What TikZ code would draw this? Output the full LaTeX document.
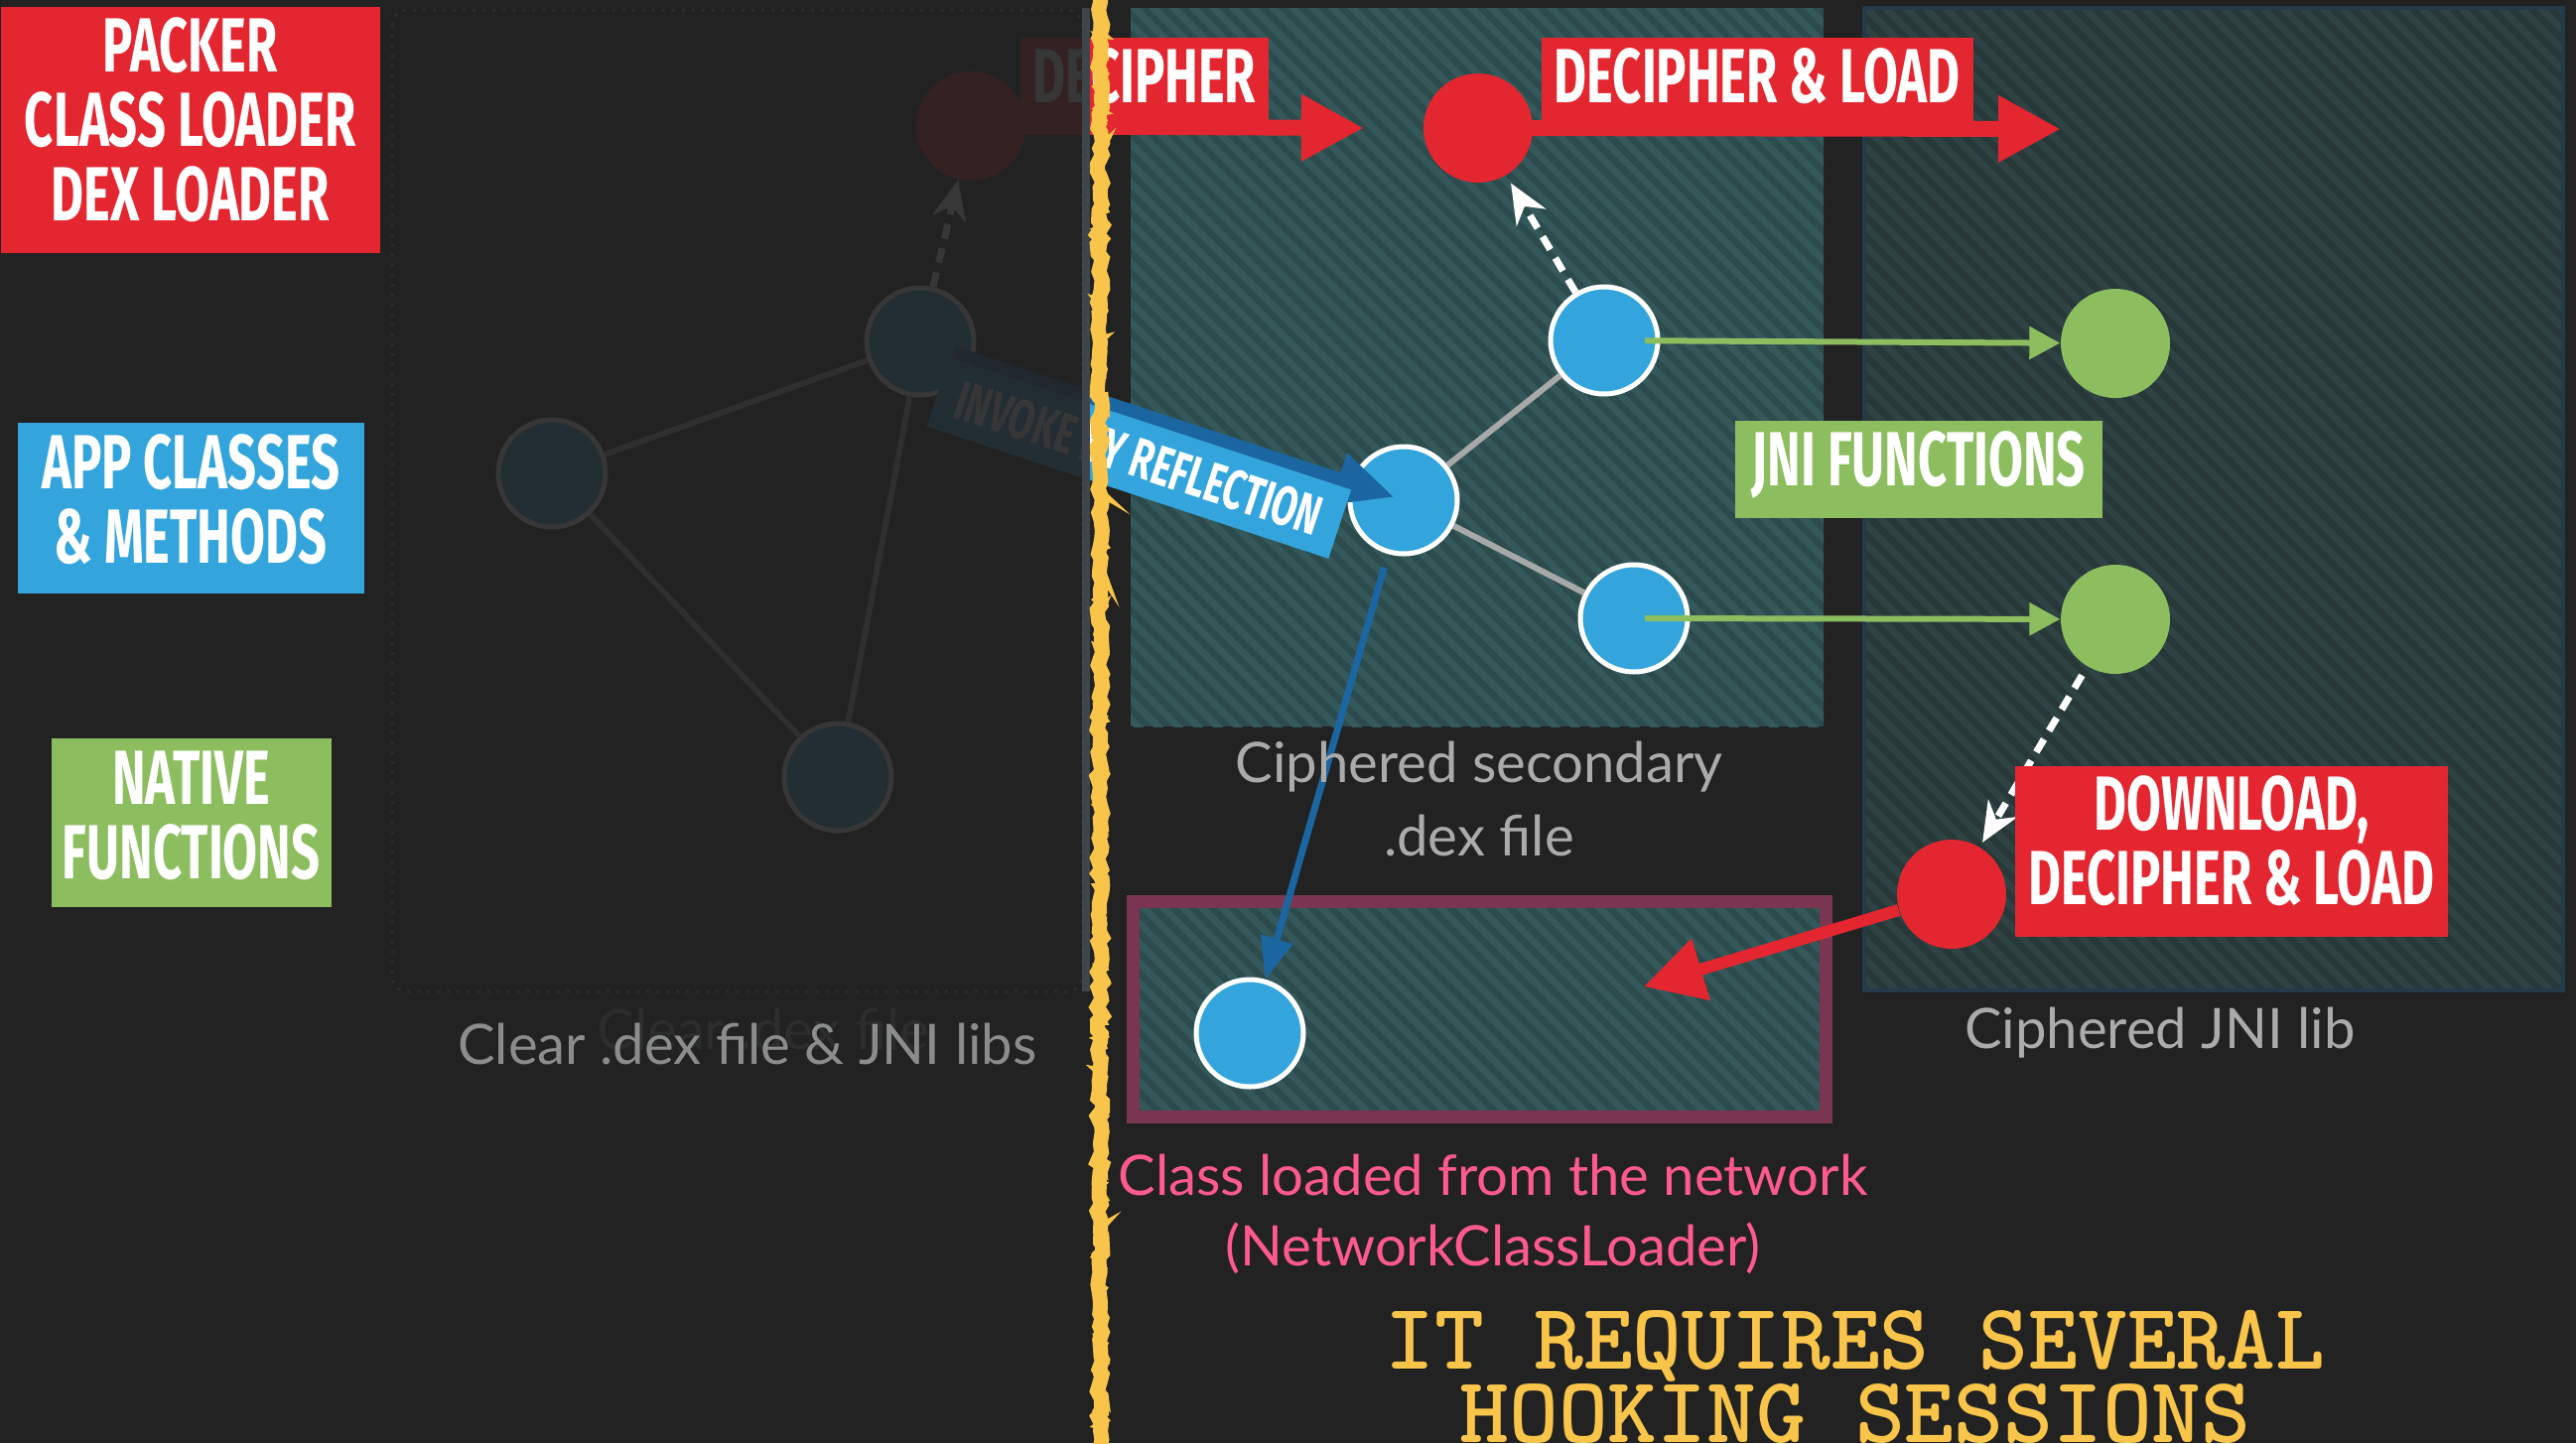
\documentclass[tikz,border=0pt]{standalone}
\usepackage{fontspec}
\setmainfont{Lato}
\newfontfamily\dinfont[FakeStretch=0.655]{Fira Sans}
\usetikzlibrary{arrows.meta, patterns.meta, decorations.pathmorphing}

\definecolor{bgc}{HTML}{222222}
\definecolor{tagred}{HTML}{E3262F}
\definecolor{appblue}{HTML}{34A5DC}
\definecolor{nativegreen}{HTML}{8CBE5F}
\definecolor{arrowblue}{HTML}{1B66A0}
\definecolor{tealA}{HTML}{2C4B4D}
\definecolor{tealAs}{HTML}{35595B}
\definecolor{tealB}{HTML}{283839}
\definecolor{tealBs}{HTML}{2F4244}
\definecolor{jniborder}{HTML}{24394A}
\definecolor{netborder}{HTML}{7A3550}
\definecolor{edgegray}{HTML}{A8A8A8}
\definecolor{capgray}{HTML}{ABABAB}
\definecolor{cleargray}{HTML}{8A8C8D}
\definecolor{ghostgray}{HTML}{2C2D2D}
\definecolor{pinktext}{HTML}{FF5A8E}
\definecolor{chalk}{HTML}{F8C54A}
\definecolor{stripgray}{HTML}{3E464C}

\tikzstyle{tag} = [rectangle, text=white, inner xsep=0pt, inner ysep=0pt,
text height=0.65cm, text depth=0.33cm, align=center,
font=\dinfont\bfseries\fontsize{22}{21.3}\selectfont]
\tikzstyle{packer} = [tag, fill=tagred]
\tikzstyle{app} = [tag, fill=appblue]
\tikzstyle{native} = [tag, fill=nativegreen]
\tikzstyle{invoke} = [rectangle, fill=appblue, text=white, inner sep=0pt,
minimum width=4.26cm, minimum height=0.73cm,
font=\dinfont\bfseries\fontsize{16}{18}\selectfont]
\tikzstyle{cls} = [circle, fill=appblue, draw=white, line width=0.05cm, minimum size=1.08cm, inner sep=0pt]
\tikzstyle{lib} = [circle, fill=nativegreen, minimum size=1.10cm, inner sep=0pt]
\tikzstyle{ldr} = [circle, fill=tagred, minimum size=1.10cm, inner sep=0pt]
\tikzstyle{edge} = [line width=0.06cm, draw=edgegray]
\tikzstyle{flow} = [line width=0.16cm, draw=tagred, -{Triangle[length=0.63cm,width=0.63cm]}]
\tikzstyle{fetch} = [line width=0.12cm, draw=tagred, -{Triangle[length=0.6cm,width=0.62cm]}]
\tikzstyle{hook} = [line width=0.07cm, draw=white, dash pattern=on 0.15cm off 0.1cm, -{Stealth[length=0.4cm,width=0.34cm]}]
\tikzstyle{jni} = [line width=0.06cm, draw=nativegreen, -{Triangle[length=0.31cm,width=0.32cm]}]
\tikzstyle{refl} = [line width=0.13cm, draw=arrowblue, shorten <=0.35cm, shorten >=0.1cm, -{Triangle[length=0.59cm,width=0.51cm]}]
\tikzstyle{load} = [line width=0.07cm, draw=arrowblue, shorten <=0.14cm, -{Triangle[length=0.42cm,width=0.32cm]}]
\tikzstyle{dexpanel} = [fill=tealA, postaction={pattern={Lines[angle=-45,distance=4pt,line width=2pt]}, pattern color=tealAs}]
\tikzstyle{jnipanel} = [fill=tealB, postaction={pattern={Lines[angle=-45,distance=4pt,line width=2pt]}, pattern color=tealBs}]
\tikzstyle{caption} = [text=capgray, anchor=base, align=center, font=\fontsize{16}{21}\selectfont]

\begin{document}
\begin{tikzpicture}
\pgfmathsetseed{7}
\useasboundingbox (0,0) rectangle (25.95,-14.54);
\fill[bgc] (0,0) rectangle (25.95,-14.54);

% panels
\fill[dexpanel] (11.39,-0.08) rectangle (18.37,-7.32);
\fill[jnipanel] (18.78,-0.08) rectangle (25.82,-9.98);
\draw[jniborder, line width=0.04cm] (18.78,-0.08) rectangle (25.82,-9.98);
\fill[dexpanel] (11.415,-9.085) rectangle (18.395,-11.255);
\draw[netborder, line width=0.13cm] (11.415,-9.085) rectangle (18.395,-11.255);

% legend
\node[packer, anchor=south west, minimum width=3.82cm, text height=2.15cm] (lgPacker) at (0,-2.56) {PACKER\\CLASS LOADER\\DEX LOADER};
\node[app, anchor=south west, minimum width=3.49cm, text height=1.41cm, text depth=0.31cm] (lgApp) at (0.17,-5.99) {APP CLASSES\\\& METHODS};
\node[native, anchor=south west, minimum width=2.82cm, text height=1.41cm, text depth=0.29cm] (lgNative) at (0.51,-9.15) {NATIVE\\FUNCTIONS};

% clear dex (dimmed later)
\node[cls] (dimA) at (5.56,-4.77) {};
\node[cls] (dimB) at (9.27,-3.44) {};
\node[cls] (dimC) at (8.44,-7.83) {};
\node[ldr] (dimR) at (9.78,-1.27) {};
% ciphered dex
\node[cls] (nTop) at (16.16,-3.43) {};
\node[cls] (nMid) at (14.14,-5.04) {};
\node[cls] (nBot) at (16.46,-6.23) {};
\node[ldr] (rLoad) at (14.89,-1.29) {};
% jni lib
\node[lib] (gTop) at (21.31,-3.46) {};
\node[lib] (gBot) at (21.31,-6.24) {};
\node[ldr] (rDown) at (19.66,-9.01) {};
% network
\node[cls] (nNet) at (12.59,-10.41) {};

\coordinate (decTip) at (13.74,-1.29);
\coordinate (loadTip) at (20.76,-1.30);
\coordinate (netTip) at (16.56,-9.94);

\draw[edge] (dimA) -- (dimB);
\draw[edge] (dimA) -- (dimC);
\draw[edge] (dimB) -- (dimC);
\draw[edge] (nMid) -- (nTop);
\draw[edge] (nMid) -- (nBot);

\draw[jni, shorten <=0.41cm] (nTop.center) -- (gTop);
\draw[jni, shorten <=0.11cm] (nBot.center) -- (gBot);

\draw[hook] (dimB) -- (dimR);
\draw[hook, shorten >=0.09cm] (nTop) -- (rLoad);
\draw[hook, shorten <=0.1cm, shorten >=0.05cm] (gBot) -- (rDown);

\draw[refl] (dimB.center) -- node[invoke, sloped, anchor=north, pos=0.48] (lblInvoke) {INVOKE BY REFLECTION} (nMid.center);
\draw[load] (nMid) -- (nNet);

\draw[flow] (dimR.center) -- (decTip);
\draw[flow] (rLoad.center) -- (loadTip);
\draw[fetch] (rDown) -- (netTip);

\node[packer, anchor=south west, minimum width=2.50cm] (tDecipher) at (10.27,-1.37) {DECIPHER};
\node[packer, anchor=south west, minimum width=4.35cm] (tLoad) at (15.52,-1.37) {DECIPHER \& LOAD};
\node[native, anchor=south west, minimum width=3.70cm] (tJni) at (17.47,-5.23) {JNI FUNCTIONS};
\node[packer, anchor=south west, minimum width=4.36cm, text height=1.39cm] (tDown) at (20.29,-9.45) {DOWNLOAD,\\DECIPHER \& LOAD};

% dim the clear part
\fill[bgc, opacity=0.9] (3.95,0) rectangle (10.90,-9.99);
\draw[ghostgray, dotted, line width=0.03cm, rounded corners=0.15cm] (3.95,-0.10) rectangle (10.90,-9.99);
\fill[stripgray] (10.90,-0.08) rectangle (10.98,-9.99);

% chalk line
\draw[chalk, line width=0.15cm, decorate, decoration={random steps, segment length=2pt, amplitude=0.8pt}] (11.08,0.05) -- (11.08,-14.6);
\draw[chalk, line width=0.07cm, decorate, decoration={random steps, segment length=1.5pt, amplitude=1.4pt}] (11.09,0.05) -- (11.09,-14.6);

% captions
\node[caption, text=ghostgray] (capGhost) at (7.69,-10.57) {Clear .dex file};
\node[caption, text=cleargray] (capClear) at (7.53,-10.72) {Clear .dex file \& JNI libs};
\node[caption] (capDex) at (14.90,-8.62) {Ciphered secondary\\.dex file};
\node[caption] (capJni) at (21.76,-10.56) {Ciphered JNI lib};
\node[caption, text=pinktext, font=\fontsize{16}{20}\selectfont] (capNet) at (15.04,-12.75) {Class loaded from the network\\(NetworkClassLoader)};
\node[caption, text=chalk, font=\ttfamily\bfseries\fontsize{27}{21}\selectfont] (title) at (18.69,-14.53) {IT REQUIRES SEVERAL\\HOOKING SESSIONS};
\end{tikzpicture}
\end{document}
